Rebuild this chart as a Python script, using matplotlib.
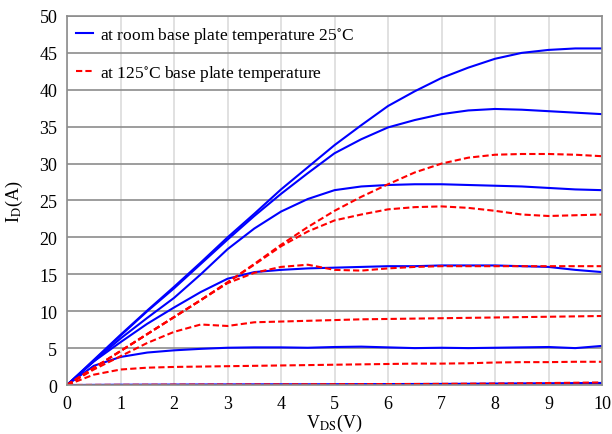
import numpy as np
import matplotlib.pyplot as plt

plt.rcParams['font.family'] = ['Liberation Serif', 'DejaVu Serif']
plt.rcParams['mathtext.fontset'] = 'stix'

# drain-source voltage (V)
vds = [0, 0.5, 1, 1.5, 2, 2.5, 3, 3.5, 4, 4.5, 5,
       5.5, 6, 6.5, 7, 7.5, 8, 8.5, 9, 9.5, 10]

# 25 C curves (A)
b1 = [0, 0.02, 0.04, 0.05, 0.06, 0.07, 0.08, 0.09, 0.1, 0.1, 0.11,
      0.12, 0.13, 0.14, 0.15, 0.17, 0.2, 0.22, 0.24, 0.26, 0.28]
b2 = [0, 2.6, 3.8, 4.4, 4.7, 4.9, 5.05, 5.1, 5.1, 5.05, 5.15,
      5.2, 5.1, 5.0, 5.05, 5.0, 5.05, 5.1, 5.15, 5.0, 5.3]
b3 = [0, 3.2, 5.8, 8.3, 10.5, 12.6, 14.4, 15.3, 15.6, 15.8, 15.9,
      16.0, 16.1, 16.1, 16.2, 16.2, 16.2, 16.1, 16.0, 15.6, 15.3]
b4 = [0, 3.2, 6.3, 9.1, 11.8, 15.0, 18.4, 21.2, 23.5, 25.2, 26.4,
      26.9, 27.1, 27.2, 27.2, 27.1, 27.0, 26.9, 26.7, 26.5, 26.4]
b5 = [0, 3.3, 6.7, 10.0, 13.1, 16.4, 19.7, 22.9, 25.9, 28.7, 31.4,
      33.3, 34.9, 35.9, 36.7, 37.2, 37.4, 37.3, 37.1, 36.9, 36.7]
b6 = [0, 3.4, 6.8, 10.1, 13.3, 16.6, 20.0, 23.2, 26.5, 29.5, 32.5,
      35.2, 37.8, 39.8, 41.6, 43.0, 44.2, 45.0, 45.4, 45.6, 45.6]

# 125 C curves (A)
r1 = [0, 0.02, 0.03, 0.04, 0.05, 0.06, 0.07, 0.08, 0.09, 0.1, 0.11,
      0.12, 0.13, 0.14, 0.16, 0.18, 0.2, 0.23, 0.27, 0.31, 0.35]
r2 = [0, 1.4, 2.1, 2.35, 2.45, 2.5, 2.55, 2.6, 2.65, 2.7, 2.75,
      2.8, 2.85, 2.9, 2.9, 2.95, 3.05, 3.1, 3.1, 3.15, 3.15]
r3 = [0, 2.1, 3.9, 5.7, 7.2, 8.2, 8.0, 8.5, 8.6, 8.7, 8.8,
      8.9, 8.95, 9.0, 9.05, 9.1, 9.15, 9.2, 9.25, 9.3, 9.35]
r4 = [0, 2.3, 4.6, 6.9, 9.2, 11.5, 13.8, 15.2, 16.0, 16.3, 15.6,
      15.5, 15.8, 16.0, 16.1, 16.1, 16.1, 16.1, 16.1, 16.1, 16.1]
r5 = [0, 2.3, 4.6, 6.9, 9.2, 11.5, 13.9, 16.3, 18.8, 20.8, 22.3,
      23.1, 23.8, 24.1, 24.2, 24.0, 23.6, 23.1, 22.9, 23.0, 23.1]
r6 = [0, 2.3, 4.6, 6.9, 9.2, 11.5, 13.9, 16.4, 19.0, 21.4, 23.6,
      25.5, 27.2, 28.8, 30.0, 30.8, 31.2, 31.3, 31.3, 31.2, 31.0]

fig = plt.figure(figsize=(6.12, 4.35), dpi=100)
ax = fig.add_axes([0.1095, 0.1126, 0.8742, 0.8484])

blues = [b1, b2, b3, b4, b5, b6]
reds = [r1, r2, r3, r4, r5, r6]

for i, b in enumerate(blues):
    ax.plot(vds, b, color='#0000ff', lw=1.5,
            label='at room base plate temperature 25$^{\\circ}$C' if i == 0 else None)
for i, r in enumerate(reds):
    ax.plot(vds, r, color='#ff0000', lw=1.5, dashes=(3, 1.5),
            label='at 125$^{\\circ}$C base plate temperature' if i == 0 else None)

ax.set_xlim(0, 10)
ax.set_ylim(0, 50)
ax.set_xticks(range(0, 11))
ax.set_yticks(range(0, 51, 5))
ax.tick_params(length=0, labelsize=13, pad=7)

ax.xaxis.grid(True, color='#dcdcdc', lw=1.2)
ax.yaxis.grid(True, color='#8c8c8c', lw=1.2)
ax.set_axisbelow(True)
for s in ax.spines.values():
    s.set_color('#8c8c8c')
    s.set_linewidth(1.2)

ax.set_xlabel('V$_{\\mathrm{DS}}$(V)', fontsize=13, labelpad=0)
ax.set_ylabel('I$_{\\mathrm{D}}$(A)', fontsize=13, labelpad=10)

ax.legend(loc='upper left', frameon=False, fontsize=12.5, handlelength=1.0,
          handletextpad=0.4, labelspacing=1.05, borderaxespad=0.1,
          bbox_to_anchor=(0.0, 1.0))

fig.savefig('out.png', dpi=100)
